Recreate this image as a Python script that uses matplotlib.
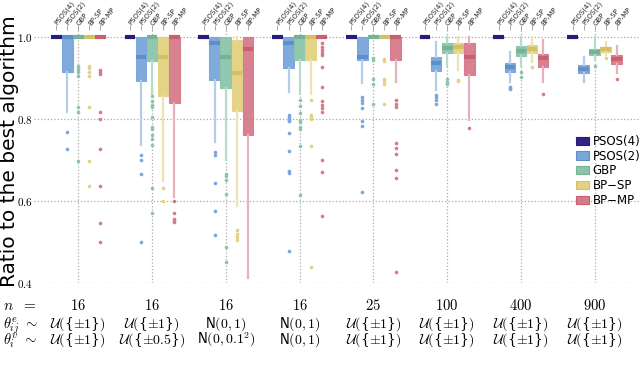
import numpy as np
import matplotlib
matplotlib.use('Agg')
import matplotlib.pyplot as plt
from matplotlib.patches import Patch

plt.rcParams['mathtext.fontset'] = 'cm'

methods = ['PSOS(4)', 'PSOS(2)', 'GBP', 'BP-SP', 'BP-MP']
legend_names = ['PSOS(4)', 'PSOS(2)', 'GBP', 'BP\u2212SP', 'BP\u2212MP']
n_labels = ['16', '16', '16', '16', '25', '100', '400', '900']
# '{'/'}' are plain text so they stay small; the rest is mathtext
edge_labels = [r'$\mathcal{U}($' + '{' + r'$\pm1$' + '}' + r'$)$',
               r'$\mathcal{U}($' + '{' + r'$\pm1$' + '}' + r'$)$',
               r'$\mathsf{N}(0,1)$',
               r'$\mathsf{N}(0,1)$',
               r'$\mathcal{U}($' + '{' + r'$\pm1$' + '}' + r'$)$',
               r'$\mathcal{U}($' + '{' + r'$\pm1$' + '}' + r'$)$',
               r'$\mathcal{U}($' + '{' + r'$\pm1$' + '}' + r'$)$',
               r'$\mathcal{U}($' + '{' + r'$\pm1$' + '}' + r'$)$']
vert_labels = [r'$\mathcal{U}($' + '{' + r'$\pm1$' + '}' + r'$)$',
               r'$\mathcal{U}($' + '{' + r'$\pm0.5$' + '}' + r'$)$',
               r'$\mathsf{N}(0,0.1^2)$',
               r'$\mathsf{N}(0,1)$',
               r'$\mathcal{U}($' + '{' + r'$\pm1$' + '}' + r'$)$',
               r'$\mathcal{U}($' + '{' + r'$\pm1$' + '}' + r'$)$',
               r'$\mathcal{U}($' + '{' + r'$\pm1$' + '}' + r'$)$',
               r'$\mathcal{U}($' + '{' + r'$\pm1$' + '}' + r'$)$']

# box stats per method, one value per problem setting
psos4_q1 = [1.0] * 8
psos4_med = [1.0] * 8
psos4_q3 = [1.0] * 8
psos4_lo = [1.0] * 8
psos4_hi = [1.0] * 8
psos4_fl = [[], [], [], [], [], [], [], []]

psos2_q1 = [0.915, 0.893, 0.895, 0.924, 0.944, 0.917, 0.914, 0.913]
psos2_med = [1.0, 0.951, 0.985, 0.985, 0.951, 0.937, 0.927, 0.922]
psos2_q3 = [1.0, 1.0, 1.0, 1.0, 1.0, 0.951, 0.937, 0.932]
psos2_lo = [0.817, 0.737, 0.744, 0.866, 0.888, 0.871, 0.89, 0.89]
psos2_hi = [1.0, 1.0, 1.0, 1.0, 1.0, 0.988, 0.963, 0.951]
psos2_fl = [[0.768, 0.727],
            [0.712, 0.70, 0.666, 0.50],
            [0.72, 0.712, 0.644, 0.576, 0.516],
            [0.81, 0.805, 0.80, 0.798, 0.795, 0.766, 0.722, 0.673, 0.668, 0.478],
            [0.854, 0.846, 0.839, 0.827, 0.795, 0.783, 0.622],
            [0.859, 0.854, 0.846, 0.837],
            [0.878, 0.875, 0.873],
            []]

gbp_q1 = [1.0, 0.941, 0.876, 0.944, 1.0, 0.961, 0.954, 0.957]
gbp_med = [1.0, 1.0, 0.951, 1.0, 1.0, 0.973, 0.966, 0.963]
gbp_q3 = [1.0, 1.0, 1.0, 1.0, 1.0, 0.985, 0.977, 0.97]
gbp_lo = [1.0, 0.86, 0.70, 0.86, 1.0, 0.93, 0.93, 0.945]
gbp_hi = [1.0] * 8
gbp_fl = [[0.93, 0.925, 0.92, 0.915, 0.905, 0.83, 0.817, 0.698],
          [0.856, 0.845, 0.835, 0.83, 0.805, 0.78, 0.776, 0.76, 0.75, 0.737, 0.632, 0.571],
          [0.666, 0.66, 0.651, 0.617, 0.488, 0.45],
          [0.846, 0.832, 0.815, 0.798, 0.793, 0.78, 0.776, 0.734, 0.615],
          [0.949, 0.944, 0.898, 0.885, 0.837],
          [0.898, 0.89, 0.885],
          [0.915, 0.902],
          [0.93]]

bpsp_q1 = [1.0, 0.856, 0.82, 0.944, 1.0, 0.961, 0.961, 0.964]
bpsp_med = [1.0, 0.951, 0.912, 1.0, 1.0, 0.975, 0.971, 0.971]
bpsp_q3 = [1.0, 1.0, 0.993, 1.0, 1.0, 0.985, 0.98, 0.976]
bpsp_lo = [1.0, 0.649, 0.588, 0.86, 1.0, 0.92, 0.94, 0.955]
bpsp_hi = [1.0, 1.0, 1.0, 1.0, 1.0, 1.0, 1.0, 0.988]
bpsp_fl = [[0.93, 0.925, 0.915, 0.905, 0.83, 0.698, 0.636],
           [0.632, 0.60],
           [0.529, 0.52, 0.512, 0.505],
           [0.846, 0.81, 0.805, 0.80, 0.734, 0.44],
           [0.946, 0.941, 0.898, 0.893, 0.885, 0.837],
           [0.895, 0.893],
           [0.927],
           [0.949]]

bpmp_q1 = [1.0, 0.84, 0.761, 1.0, 0.944, 0.907, 0.927, 0.935]
bpmp_med = [1.0, 1.0, 0.971, 1.0, 1.0, 0.951, 0.948, 0.946]
bpmp_q3 = [1.0, 1.0, 1.0, 1.0, 1.0, 0.985, 0.958, 0.956]
bpmp_lo = [1.0, 0.61, 0.412, 1.0, 0.89, 0.798, 0.89, 0.912]
bpmp_hi = [1.0, 1.0, 1.0, 1.0, 1.0, 1.0, 0.993, 0.978]
bpmp_fl = [[0.92, 0.915, 0.91, 0.817, 0.80, 0.727, 0.636, 0.546, 0.50],
           [0.60, 0.571, 0.556, 0.552, 0.548],
           [],
           [0.985, 0.976, 0.968, 0.961, 0.956, 0.927, 0.878, 0.844, 0.834, 0.827, 0.817, 0.70, 0.671, 0.563],
           [0.846, 0.837, 0.829, 0.741, 0.729, 0.715, 0.676, 0.656, 0.427],
           [0.778],
           [0.861],
           [0.898]]

all_stats = [
    (psos4_q1, psos4_med, psos4_q3, psos4_lo, psos4_hi, psos4_fl),
    (psos2_q1, psos2_med, psos2_q3, psos2_lo, psos2_hi, psos2_fl),
    (gbp_q1, gbp_med, gbp_q3, gbp_lo, gbp_hi, gbp_fl),
    (bpsp_q1, bpsp_med, bpsp_q3, bpsp_lo, bpsp_hi, bpsp_fl),
    (bpmp_q1, bpmp_med, bpmp_q3, bpmp_lo, bpmp_hi, bpmp_fl),
]

face = ['#332288', '#7aa6da', '#8cc4ac', '#e2d282', '#d67a8a']
dark = ['#2a1c7a', '#5e8fcb', '#74b396', '#d4c067', '#c9606f']
light = ['#8a80c0', '#b5cdea', '#b8dccc', '#eee3b0', '#e8b0ba']

fig = plt.figure(figsize=(6.4, 3.66), dpi=100)
ax = fig.add_axes([34 / 640, 1 - 283 / 366, 605 / 640, (283 - 30) / 366])

ngroups = len(n_labels)
width = 0.15
groups = np.arange(ngroups)
all_pos = []
for m in range(len(methods)):
    q1, med, q3, lo, hi, fl = all_stats[m]
    stats = []
    for g in range(ngroups):
        stats.append(dict(q1=q1[g], med=med[g], q3=q3[g], whislo=lo[g], whishi=hi[g],
                          fliers=fl[g]))
    pos = groups + (m - 2) * width
    all_pos += list(pos)
    ax.bxp(stats, positions=pos, widths=width * 0.97, patch_artist=True, showcaps=False,
           boxprops=dict(facecolor=face[m], edgecolor=face[m], linewidth=0.8, alpha=0.95),
           medianprops=dict(color=dark[m], linewidth=3),
           whiskerprops=dict(color=light[m], linewidth=1.6),
           flierprops=dict(marker='o', markersize=2.6, markerfacecolor=face[m],
                           markeredgecolor='none'),
           manage_ticks=False)

ax.set_xlim(-0.6, ngroups - 0.4)
ax.set_ylim(0.4, 1.017)
ax.set_yticks([0.4, 0.6, 0.8, 1.0])
ax.set_yticklabels(['$0.4$', '$0.6$', '$0.8$', '$1.0$'], fontsize=8)
ax.set_xticks(groups)
ax.set_xticklabels([''] * ngroups)
ax.tick_params(length=0, pad=1)
ax.set_axisbelow(True)
ax.grid(True, color='#aaaaaa', linestyle=':', linewidth=0.9)
for s in ax.spines.values():
    s.set_visible(False)

ax.set_ylabel('Ratio to the best algorithm', fontsize=14.5)
ax.yaxis.set_label_coords(-15 / 605, 0.52)

# method names along the top
top = ax.secondary_xaxis('top')
order = np.argsort(all_pos)
top_pos = np.array(all_pos)[order]
top_lab = [methods[i // ngroups] for i in order]
top.set_xticks(top_pos)
top.set_xticklabels(top_lab, rotation=52, ha='left', va='center', rotation_mode='anchor',
                    fontsize=5, color='#222222')
top.tick_params(length=3.5, color='#999999', width=0.6, pad=0.5)
top.spines['top'].set_visible(False)

# setting rows under the chart
for g in range(ngroups):
    x = ax.transData.transform((g, 0))[0] / fig.dpi / 6.4
    fig.text(x, 1 - 310 / 366, '$' + n_labels[g] + '$', ha='center', va='baseline', fontsize=10.5)
    fig.text(x, 1 - 328 / 366, edge_labels[g], ha='center', va='baseline', fontsize=10,
             family=['DejaVu Serif'])
    fig.text(x, 1 - 344 / 366, vert_labels[g], ha='center', va='baseline', fontsize=10,
             family=['DejaVu Serif'])
fig.text(0.004, 1 - 310 / 366, r'$n\ \ =$', va='baseline', fontsize=11)
fig.text(0.004, 1 - 328 / 366, r'$\theta^e_{ij}\ \sim$', va='baseline', fontsize=10.5)
fig.text(0.004, 1 - 344 / 366, r'$\theta^v_i\ \sim$', va='baseline', fontsize=10.5)

handles = [Patch(facecolor=face[m], edgecolor=dark[m], linewidth=0.8) for m in range(5)]
fig.legend(handles, legend_names, loc='center left', bbox_to_anchor=(576 / 640, 1 - 171 / 366),
           frameon=False, fontsize=8.5, handlelength=1.1, handleheight=0.7,
           labelspacing=0.15, handletextpad=0.3, borderpad=0, borderaxespad=0)

fig.savefig('out.png', dpi=100)
